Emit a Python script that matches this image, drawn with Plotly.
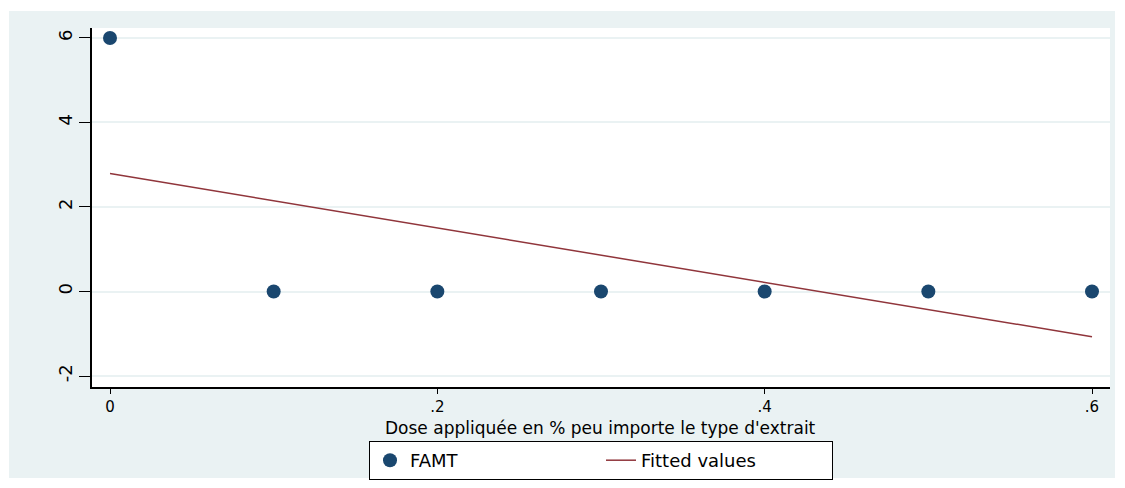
import plotly.graph_objects as go

dose = [0, 0.1, 0.2, 0.3, 0.4, 0.5, 0.6]
famt = [6, 0, 0, 0, 0, 0, 0]
fitted = [2.79, 2.14, 1.50, 0.86, 0.21, -0.43, -1.07]
xticks = [0, 0.2, 0.4, 0.6]
xticklabels = ["0", ".2", ".4", ".6"]
yticks = [-2, 0, 2, 4, 6]
yticklabels = ["-2", "0", "2", "4", "6"]
xtitle = "Dose appliquée en % peu importe le type d'extrait"

BG = "#EAF2F3"
FONT = "DejaVu Sans, Liberation Sans, Arial, sans-serif"

fig = go.Figure()
fig.add_trace(go.Scatter(x=dose, y=famt, mode="markers", name="FAMT",
                         marker=dict(color="#1A476F", size=14, symbol="circle")))
fig.add_trace(go.Scatter(x=[dose[0], dose[-1]], y=[fitted[0], fitted[-1]], mode="lines",
                         name="Fitted values", line=dict(color="#90353B", width=1.5)))

# page has an 8px body margin; work in page pixels and convert
OFF = 8
W, H = 1125 - OFF, 488 - OFF
L, R, T, B = 92 - OFF, 1125 - 1110, 28 - OFF, 488 - 387
pw, ph = W - L - R, H - T - B

def px2paper_x(p):
    return (p - OFF - L) / pw

def px2paper_y(p):
    return (H - B - (p - OFF)) / ph

fig.add_shape(type="rect", xref="paper", yref="paper",
              x0=px2paper_x(9), x1=px2paper_x(1115), y0=px2paper_y(478), y1=px2paper_y(11),
              fillcolor=BG, line=dict(width=0), layer="below")
fig.add_shape(type="rect", xref="paper", yref="paper", x0=0, x1=1, y0=0, y1=1,
              fillcolor="white", line=dict(width=0), layer="below")

fig.add_annotation(text=xtitle, xref="paper", yref="paper",
                   x=px2paper_x(600), y=px2paper_y(428), xanchor="center", yanchor="middle",
                   showarrow=False, font=dict(size=17))

fig.update_layout(
    width=W, height=H,
    margin=dict(l=L, r=R, t=T, b=B, autoexpand=False),
    paper_bgcolor="white", plot_bgcolor="white",
    font=dict(family=FONT, size=18, color="black"),
    showlegend=True,
    legend=dict(orientation="h", x=0.5, xanchor="center", y=px2paper_y(441), yanchor="top",
                bordercolor="black", borderwidth=1, bgcolor="white",
                font=dict(size=18), entrywidth=186, entrywidthmode="pixels"),
    xaxis=dict(range=[-0.011, 0.611], tickvals=xticks, ticktext=xticklabels,
               showgrid=False, zeroline=False, showline=True, linecolor="black", linewidth=1.5,
               ticks="outside", ticklen=5, tickcolor="black", tickfont=dict(size=15),
               automargin=False),
    yaxis=dict(range=[-2.26, 6.236], tickvals=yticks, ticktext=yticklabels,
               showgrid=True, gridcolor=BG, gridwidth=1.5, zeroline=False,
               showline=True, linecolor="black", linewidth=1.5,
               ticks="outside", ticklen=11, tickcolor="black", tickangle=-90,
               tickfont=dict(size=18), automargin=False),
)

fig.write_html("out.html")
